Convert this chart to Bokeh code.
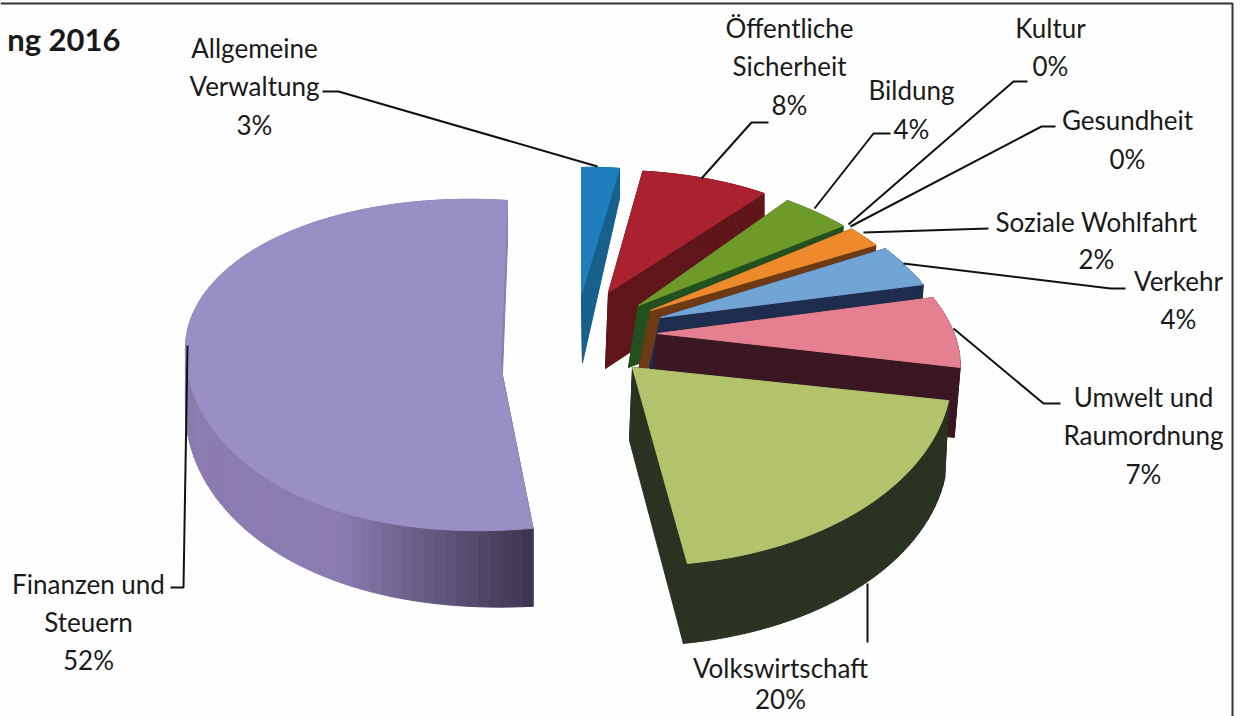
import math
from bokeh.plotting import figure
from bokeh.models import Range1d
from bokeh.embed import file_html
from bokeh.resources import INLINE
from bokeh.core.properties import value

# ---- data ----
categories = ["Allgemeine Verwaltung", "Öffentliche Sicherheit", "Bildung", "Kultur",
              "Gesundheit", "Soziale Wohlfahrt", "Verkehr", "Umwelt und Raumordnung",
              "Volkswirtschaft", "Finanzen und Steuern"]
values = [3, 8, 4, 0, 0, 2, 4, 7, 20, 52]
label_rows = [["Allgemeine", "Verwaltung"], ["Öffentliche", "Sicherheit"], ["Bildung"],
              ["Kultur"], ["Gesundheit"], ["Soziale Wohlfahrt"], ["Verkehr"],
              ["Umwelt und", "Raumordnung"], ["Volkswirtschaft"], ["Finanzen und", "Steuern"]]
title_fragment = "ng 2016"

# ---- style / layout ----
top_colors = ["#1E7FBC", "#AA2230", "#6E9A2A", None, None, "#EC8A2C", "#72A4D6", "#E4808F", "#B2C36C", "#9A8EC6"]
side_colors = ["#17608C", "#5F1519", "#23501F", None, None, "#6E3A16", "#1E2C4E", "#3A1722", "#2A3222", "#8A7BB0"]
side_dark = {9: "#3E3650"}

# projection of each slice: apex x, y, then x = a*u + b*v, y = -c*v + d*u + e*u*v (front half)
frames = [
    (581, 293, 203, 0, 126, -7, 0),
    (608, 292, 262, -15, 122, -8, 0),
    (638, 305, 282, -40, 137, 1, 0),
    None, None,
    (650, 310, 284, -49, 147, 6, 0),
    (660, 317, 284, -50, 152, 5, 0),
    (657, 333, 298, -53, 160, 4, 0),
    (632, 367, 319, -15, 198, -4, 0),
    (500, 365, 315, 7, 165, 20, 28),
]
# extrusion: apex dx, apex dy, rim dx, rim dy at start, rim dy at end
depths = [
    (1, 69, 0, 30, 30),
    (-3, 76, 0, 70, 70),
    (-10, 62, -4, 60, 60),
    None, None,
    (-12, 60, -4, 60, 60),
    (-12, 55, -4, 60, 60),
    (-8, 70, -6, 70, 70),
    (-3, 73, -4, 78, 80),
    (0, 60, 0, 78, 42),
]

label_pos = [
    (254, [47, 85, 124]), (789, [27, 65, 104]), (911, [89, 128]), (1050, [27, 65]),
    (1127, [119, 158]), (1096, [221, 258]), (1178, [280, 318]), (1143, [396, 434, 473]),
    (780, [667, 698]), (88, [583, 621, 659]),
]
leaders = [
    [(322, 91), (338, 91), (597, 166)],
    [(768, 122), (751, 122), (701, 178)],
    [(890, 133), (873, 133), (814, 208)],
    [(1027, 81), (1013, 81), (848, 224)],
    [(1055, 126), (1041, 126), (850, 226)],
    [(988, 228), (863, 232)],
    [(1125, 288), (1110, 288), (903, 263)],
    [(1060, 403), (1043, 403), (953, 328)],
    [(867, 642), (867, 583)],
    [(170, 587), (183, 587), (187, 345)],
]
FONT = "Lato"
FS = "26px"


def blend(c1, c2, t):
    a = [int(c1[i:i + 2], 16) for i in (1, 3, 5)]
    b = [int(c2[i:i + 2], 16) for i in (1, 3, 5)]
    return "#%02x%02x%02x" % tuple(round(a[k] + (b[k] - a[k]) * t) for k in range(3))


def project(fr, theta):
    ax, ay, a, b, c, d, e = fr
    u, v = math.sin(theta), math.cos(theta)
    x = ax + a * u + b * v
    y = ay - c * v + d * u + (e * u * v if v < 0 else 0)
    return x, y


p = figure(width=1241, height=716, output_backend="svg", toolbar_location=None,
           x_range=Range1d(0, 1241), y_range=Range1d(716, 0),
           min_border=0, background_fill_color="#FEFEFE", border_fill_color="#FEFEFE",
           outline_line_color=None)
p.axis.visible = False
p.grid.visible = False

xs, ys, fills = [], [], []


def add(poly, color):
    xs.append([q[0] for q in poly])
    ys.append([q[1] for q in poly])
    fills.append(color)


total = sum(values)
order = [9, 0, 1, 2, 5, 6, 7, 8]
starts = []
acc = 0
for v in values:
    starts.append(acc)
    acc += v

for i in order:
    fr, dp = frames[i], depths[i]
    t0 = 2 * math.pi * starts[i] / total
    t1 = 2 * math.pi * (starts[i] + values[i]) / total
    n = max(2, int(math.degrees(t1 - t0) / 2))
    thetas = [t0 + (t1 - t0) * k / n for k in range(n + 1)]
    arc = [project(fr, t) for t in thetas]
    adx, ady, rdx, rd0, rd1 = dp
    low = [(q[0] + rdx, q[1] + rd0 + (rd1 - rd0) * k / n) for k, q in enumerate(arc)]
    apex = (fr[0], fr[1])
    apex_low = (fr[0] + adx, fr[1] + ady)
    base = side_dark.get(i, side_colors[i])
    add([apex, arc[0], low[0], apex_low], base)
    add([apex, arc[-1], low[-1], apex_low], side_colors[i])
    for k in range(n):
        tt = min(1.0, math.degrees(thetas[k] - t0) / 35)
        add([arc[k], arc[k + 1], low[k + 1], low[k]], blend(base, side_colors[i], tt))
    add([apex] + arc, top_colors[i])

p.patches(xs, ys, fill_color=fills, line_color=fills, line_width=1)

# frame of the scanned page
p.line([0, 1232, 1232], [3, 3, 716], line_color="#333333", line_width=2)

for pts in leaders:
    p.line([q[0] for q in pts], [q[1] for q in pts], line_color="#111111", line_width=2)

tx, ty, tt = [], [], []
for (cx, rows_y), rows, val in zip(label_pos, label_rows, values):
    for row, yy in zip(rows + [f"{val}%"], rows_y):
        tx.append(cx)
        ty.append(yy)
        tt.append(row)
p.text(tx, ty, text=tt, text_align="center", text_baseline="middle",
       text_font=value(FONT), text_font_size=FS, text_color="#1A1A1A")
p.text([120], [38], text=[title_fragment], text_align="right", text_baseline="middle",
       text_font=value(FONT), text_font_size="31px", text_font_style="bold", text_color="#1A1A1A")

open("out.html", "w").write(file_html(p, INLINE))
